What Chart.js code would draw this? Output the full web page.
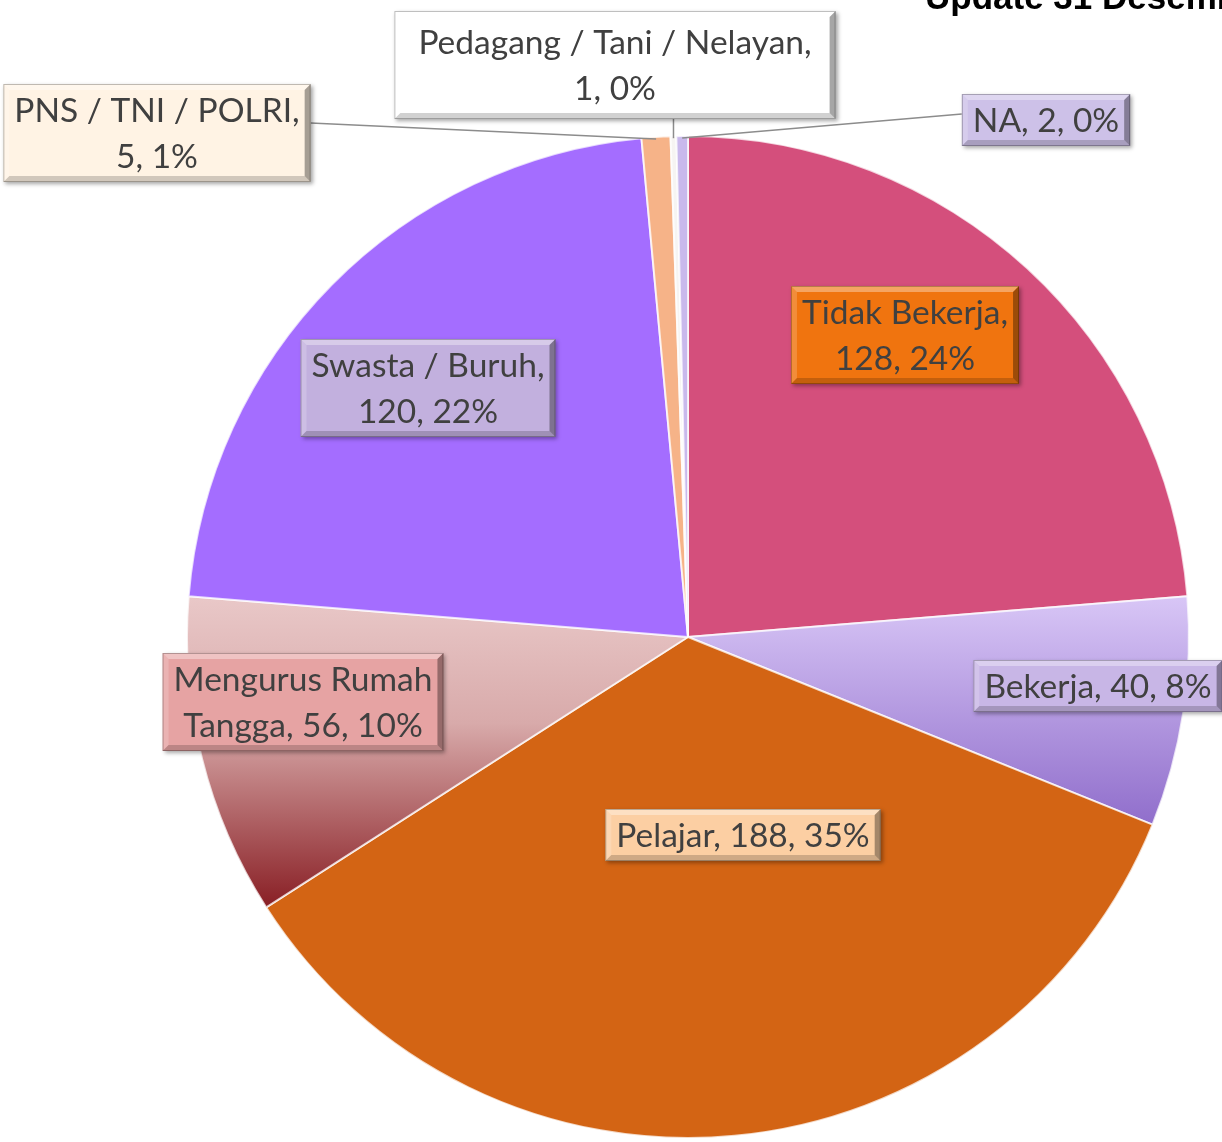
<!DOCTYPE html>
<html>
<head>
<meta charset="utf-8">
<script src="https://cdn.jsdelivr.net/npm/chart.js@4.4.1/dist/chart.umd.min.js"></script>
<style>
  html, body { margin: 0; padding: 0; background: #ffffff; }
  #pekerjaan-chart { display: block; }
</style>
</head>
<body>
<canvas id="pekerjaan-chart" width="1222" height="1142"></canvas>
<script>
// Data
const categories = [
  "Tidak Bekerja",
  "Bekerja",
  "Pelajar",
  "Mengurus Rumah Tangga",
  "Swasta / Buruh",
  "PNS / TNI / POLRI",
  "Pedagang / Tani / Nelayan",
  "NA",
];
const values = [128, 40, 188, 56, 120, 5, 1, 2];
const titleText = "Update 31 Desember";

// Style
const sliceColors = ["#d44f7c", null, "#d36414", null, "#a46dff", "#f6b388", "#f6f4f2", "#c9b9ec"];
const sliceGradients = {
  1: [[0, "#d8c6f6"], [1, "#8c69c9"]],
  3: [[0, "#e9c8c8"], [0.4, "#d8aaaa"], [1, "#861a20"]],
};
const labelFills = ["#f0740f", "#c8b6e6", "#fccfa3", "#e6a3a3", "#c2b0de", "#fff3e4", "#ffffff", "#cdc1e8"];
// Label box centres (px), words on the first line, extra box size [w, h]
const labelCenters = [
  [905, 335], [1098, 686], [743, 835], [303, 702],
  [428, 388], [157, 133], [615, 65], [1046, 120],
];
const wrapAfter = [2, 0, 0, 2, 3, 5, 5, 0];
const boxExtra = [
  [0, 0], [0, 0], [0, 0], [0, 0],
  [0, 0], [0, 0], [26, 10], [0, 0],
];
const leaderLines = [false, false, false, false, false, true, true, true];

// Excel-style percentages (largest remainder, sum = 100)
function percentages(vals) {
  const total = vals.reduce((a, b) => a + b, 0);
  const raw = vals.map((v) => (v / total) * 100);
  const out = raw.map(Math.floor);
  let left = 100 - out.reduce((a, b) => a + b, 0);
  const order = raw
    .map((r, i) => [r - Math.floor(r), i])
    .sort((a, b) => b[0] - a[0]);
  for (let k = 0; k < left; k++) out[order[k][1]] += 1;
  return out;
}
const percents = percentages(values);

function labelLinesFor(i) {
  const words = `${categories[i]}, ${values[i]}, ${percents[i]}%`.split(" ");
  if (!wrapAfter[i]) return [words.join(" ")];
  return [words.slice(0, wrapAfter[i]).join(" "), words.slice(wrapAfter[i]).join(" ")];
}

const FONT = "33.5px Lato";
const LINE_H = 46;

function boxSize(ctx, i) {
  const lines = labelLinesFor(i);
  const w = Math.max(...lines.map((l) => ctx.measureText(l).width)) + 22 + boxExtra[i][0];
  const h = lines.length * LINE_H + 6 + boxExtra[i][1];
  return [w, h, lines];
}

function drawBox(ctx, x, y, w, h, fill) {
  ctx.save();
  ctx.shadowColor = "rgba(0,0,0,0.35)";
  ctx.shadowBlur = 4;
  ctx.shadowOffsetX = 2;
  ctx.shadowOffsetY = 2;
  ctx.fillStyle = fill;
  ctx.fillRect(x, y, w, h);
  ctx.restore();

  const b = 6;
  ctx.save();
  // top bevel
  ctx.fillStyle = "rgba(255,255,255,0.35)";
  ctx.beginPath();
  ctx.moveTo(x, y); ctx.lineTo(x + w, y); ctx.lineTo(x + w - b, y + b); ctx.lineTo(x + b, y + b);
  ctx.closePath(); ctx.fill();
  // left bevel
  ctx.fillStyle = "rgba(255,255,255,0.18)";
  ctx.beginPath();
  ctx.moveTo(x, y); ctx.lineTo(x + b, y + b); ctx.lineTo(x + b, y + h - b); ctx.lineTo(x, y + h);
  ctx.closePath(); ctx.fill();
  // bottom bevel
  ctx.fillStyle = "rgba(0,0,0,0.18)";
  ctx.beginPath();
  ctx.moveTo(x, y + h); ctx.lineTo(x + b, y + h - b); ctx.lineTo(x + w - b, y + h - b); ctx.lineTo(x + w, y + h);
  ctx.closePath(); ctx.fill();
  // right bevel
  ctx.fillStyle = "rgba(0,0,0,0.35)";
  ctx.beginPath();
  ctx.moveTo(x + w, y); ctx.lineTo(x + w, y + h); ctx.lineTo(x + w - b, y + h - b); ctx.lineTo(x + w - b, y + b);
  ctx.closePath(); ctx.fill();
  ctx.strokeStyle = "rgba(0,0,0,0.25)";
  ctx.lineWidth = 1;
  ctx.strokeRect(x + 0.5, y + 0.5, w - 1, h - 1);
  ctx.restore();
}

// Labels plugin
const boxLabels = {
  id: "boxLabels",
  afterDatasetsDraw(chart) {
    const ctx = chart.ctx;
    const arcs = chart.getDatasetMeta(0).data;
    ctx.save();
    ctx.font = FONT;

    // leader lines first
    arcs.forEach((arc, i) => {
      if (!leaderLines[i]) return;
      const mid = (arc.startAngle + arc.endAngle) / 2;
      const r = arc.outerRadius - 2;
      const ex = arc.x + Math.cos(mid) * r;
      const ey = arc.y + Math.sin(mid) * r;
      const [cx, cy] = labelCenters[i];
      const [w, h] = boxSize(ctx, i);
      let sx, sy;
      if (ex > cx + w / 2) { sx = cx + w / 2; sy = cy - 10; }
      else if (ex < cx - w / 2) { sx = cx - w / 2; sy = cy - 6; }
      else { sx = ex; sy = cy + h / 2; }
      ctx.strokeStyle = "#8c8c8c";
      ctx.lineWidth = 1.5;
      ctx.beginPath();
      ctx.moveTo(sx, sy);
      ctx.lineTo(ex, ey);
      ctx.stroke();
    });

    arcs.forEach((arc, i) => {
      const [cx, cy] = labelCenters[i];
      const [w, h, lines] = boxSize(ctx, i);
      drawBox(ctx, cx - w / 2, cy - h / 2, w, h, labelFills[i]);
      ctx.fillStyle = "#404040";
      ctx.textAlign = "center";
      ctx.textBaseline = "middle";
      lines.forEach((l, k) => {
        ctx.fillText(l, cx, cy - ((lines.length - 1) * LINE_H) / 2 + k * LINE_H + 1);
      });
    });

    // title (cut by the top edge)
    ctx.font = "bold 35px 'Liberation Sans', Arial";
    ctx.fillStyle = "#000000";
    ctx.textAlign = "left";
    ctx.textBaseline = "alphabetic";
    ctx.fillText(titleText, 925, 9);
    ctx.restore();
  },
};

const pieCanvas = document.querySelector("#pekerjaan-chart");
if (pieCanvas) {
  new Chart(pieCanvas, {
    type: "pie",
    data: {
      labels: categories,
      datasets: [
        {
          data: values,
          backgroundColor: (c) => {
            const i = c.dataIndex;
            const grad = sliceGradients[i];
            if (!grad) return sliceColors[i];
            const chart = c.chart;
            const area = chart.chartArea;
            if (!area) return grad[0][1];
            const cy = (area.top + area.bottom) / 2;
            const r = (area.bottom - area.top) / 2;
            const g = chart.ctx.createLinearGradient(0, cy - 0.08 * r, 0, cy + (i === 1 ? 0.4 : 0.55) * r);
            grad.forEach(([pos, col]) => g.addColorStop(pos, col));
            return g;
          },
          borderColor: "rgba(255,255,255,0.75)",
          borderWidth: 2,
        },
      ],
    },
    options: {
      responsive: false,
      devicePixelRatio: 1,
      animation: false,
      layout: {
        padding: { left: 186, right: 32, top: 135, bottom: 3 },
      },
      plugins: {
        legend: { display: false },
        tooltip: { enabled: false },
        title: { display: false },
      },
    },
    plugins: [boxLabels],
  });
}
</script>
</body>
</html>
